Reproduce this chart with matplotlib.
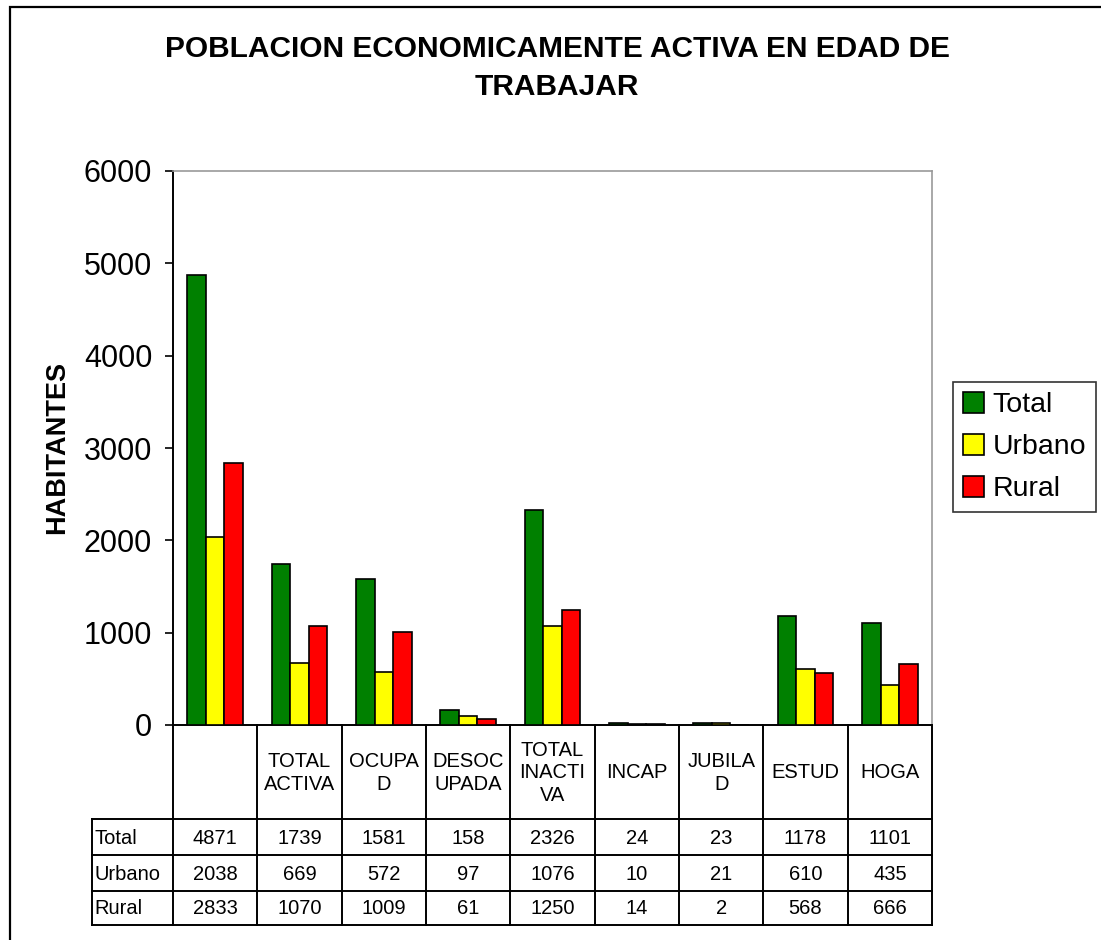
import matplotlib
matplotlib.use("Agg")
import matplotlib.pyplot as plt
import numpy as np
from matplotlib.patches import Rectangle

plt.rcParams["font.family"] = ["Liberation Sans", "DejaVu Sans"]

# ---- data ----
CATEGORIES = ["", "TOTAL\nACTIVA", "OCUPA\nD", "DESOC\nUPADA", "TOTAL\nINACTI\nVA",
              "INCAP", "JUBILA\nD", "ESTUD", "HOGA"]
SERIES = ["Total", "Urbano", "Rural"]
TOTAL = [4871, 1739, 1581, 158, 2326, 24, 23, 1178, 1101]
URBANO = [2038, 669, 572, 97, 1076, 10, 21, 610, 435]
RURAL = [2833, 1070, 1009, 61, 1250, 14, 2, 568, 666]
COLORS = ["#008000", "#FFFF00", "#FF0000"]

W, H = 1101, 940
fig = plt.figure(figsize=(W / 100, H / 100), dpi=100)

# outer chart border (left/top visible, rest runs off the image)
fig.add_artist(Rectangle((10 / W, -0.05), 1.1, 1 - 7 / H + 0.05,
                         transform=fig.transFigure, fill=False,
                         edgecolor="black", linewidth=1.6))

ax = fig.add_axes([173 / W, 1 - 725 / H, (932 - 173) / W, (725 - 171) / H])

n = len(CATEGORIES)
x = np.arange(n) + 0.5
bw = 0.22
for i, (vals, col, name) in enumerate(zip([TOTAL, URBANO, RURAL], COLORS, SERIES)):
    ax.bar(x + (i - 1) * bw, vals, width=bw, color=col, edgecolor="black",
           linewidth=1.2, label=name, zorder=3)

ax.set_xlim(0, n)
ax.set_ylim(0, 6000)
ax.set_yticks(range(0, 6001, 1000))
ax.tick_params(axis="y", labelsize=22, length=6, width=1.2, direction="out", pad=9)
ax.set_xticks([])
for s in ("top", "right"):
    ax.spines[s].set_color("#999999")
    ax.spines[s].set_linewidth(1.2)
for s in ("left", "bottom"):
    ax.spines[s].set_color("black")
    ax.spines[s].set_linewidth(1.4)

ax.set_ylabel("HABITANTES", fontsize=19.5, fontweight="bold", labelpad=10)

fig.text(557 / W, 1 - 49 / H, "POBLACION ECONOMICAMENTE ACTIVA EN EDAD DE",
         ha="center", va="center", fontsize=21.5, fontweight="bold")
fig.text(557 / W, 1 - 87 / H, "TRABAJAR",
         ha="center", va="center", fontsize=21.5, fontweight="bold")

# ---- data table under the axis ----
tr = ax.get_xaxis_transform()
ph = 725 - 171
def ay(py):
    return (725 - py) / ph

row_edges = [725, 819, 855, 891, 925]
label_left = (92 - 173) / ((932 - 173) / n)
lw = 1.4
# horizontal lines
for py in row_edges[1:]:
    ax.plot([label_left, n], [ay(py)] * 2, color="black", lw=lw,
            transform=tr, clip_on=False)
# vertical lines
for k in range(n + 1):
    ax.plot([k, k], [0, ay(925)], color="black", lw=lw, transform=tr, clip_on=False)
ax.plot([label_left] * 2, [ay(819), ay(925)], color="black", lw=lw,
        transform=tr, clip_on=False)

fs = 14.5
for k, lab in enumerate(CATEGORIES):
    ax.text(k + 0.5, ay(773), lab, transform=tr, ha="center", va="center",
            fontsize=fs, linespacing=1.25, clip_on=False)

for r, (name, vals) in enumerate(zip(SERIES, [TOTAL, URBANO, RURAL])):
    yc = ay((row_edges[r + 1] + row_edges[r + 2]) / 2 + 1)
    ax.text(label_left + 0.03, yc, name, transform=tr, ha="left", va="center",
            fontsize=fs, clip_on=False)
    for k, v in enumerate(vals):
        ax.text(k + 0.5, yc, str(v), transform=tr, ha="center", va="center",
                fontsize=fs, clip_on=False)

leg = fig.legend(loc="upper left", bbox_to_anchor=(953 / W, 1 - 382 / H),
                 fontsize=20.5, frameon=True, fancybox=False, handlelength=0.75,
                 handleheight=0.75, handletextpad=0.3, borderpad=0.35,
                 labelspacing=0.55, borderaxespad=0)
leg.get_frame().set_edgecolor("black")
leg.get_frame().set_linewidth(1.2)

fig.savefig("out.png", dpi=100)
